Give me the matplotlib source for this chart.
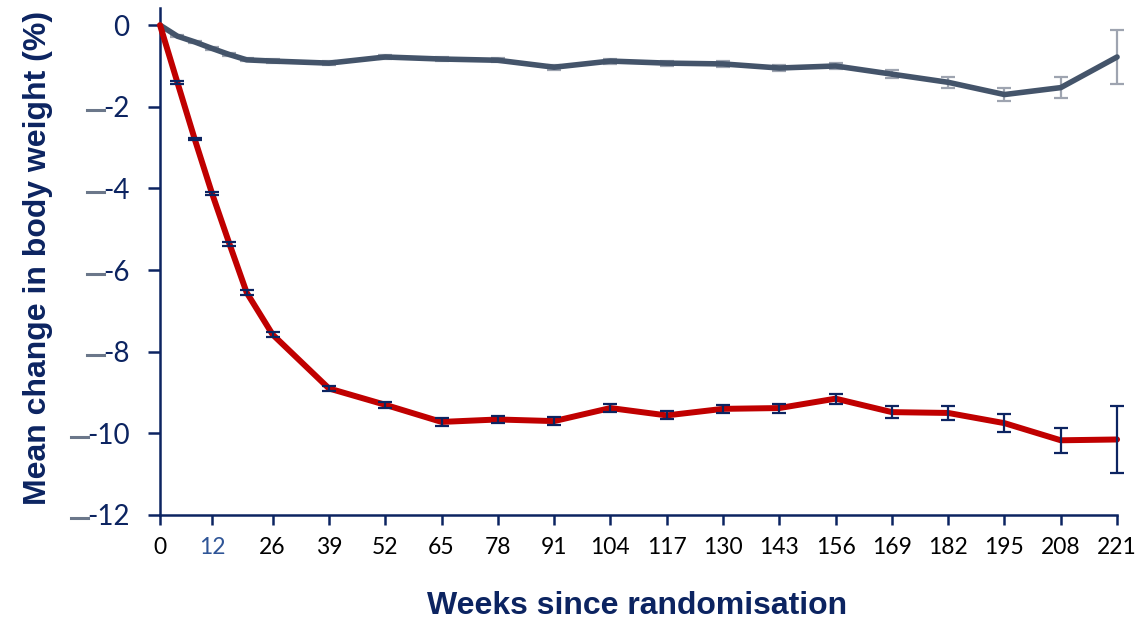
import matplotlib
matplotlib.use("Agg")
import matplotlib.pyplot as plt
from matplotlib.lines import Line2D
import numpy as np

# weeks since randomisation
weeks = [0, 4, 8, 12, 16, 20, 26, 39, 52, 65, 78, 91, 104, 117, 130, 143, 156, 169, 182, 195, 208, 221]

# treatment arm (red) mean change and error
treat_mean = [0, -1.40, -2.79, -4.12, -5.35, -6.55, -7.58, -8.90, -9.30, -9.72, -9.66, -9.70, -9.38,
              -9.56, -9.40, -9.38, -9.15, -9.48, -9.50, -9.75, -10.17, -10.15]
treat_err = [0, 0.03, 0.03, 0.04, 0.05, 0.05, 0.07, 0.07, 0.08, 0.09, 0.09, 0.10, 0.09,
             0.10, 0.10, 0.11, 0.12, 0.15, 0.17, 0.22, 0.30, 0.81]

# placebo arm (grey) mean change and error
plac_mean = [0, -0.27, -0.41, -0.57, -0.72, -0.85, -0.88, -0.93, -0.78, -0.83, -0.86, -1.03, -0.88,
             -0.93, -0.95, -1.05, -1.00, -1.20, -1.40, -1.70, -1.53, -0.78]
plac_err = [0, 0.02, 0.02, 0.03, 0.03, 0.04, 0.04, 0.05, 0.05, 0.05, 0.05, 0.06, 0.06,
            0.06, 0.07, 0.08, 0.08, 0.10, 0.13, 0.17, 0.25, 0.67]

xticks = [0, 12, 26, 39, 52, 65, 78, 91, 104, 117, 130, 143, 156, 169, 182, 195, 208, 221]
yticks = [0, -2, -4, -6, -8, -10, -12]

navy = "#0c2461"
red = "#c00000"
slate = "#44546a"
light = "#9ea4b0"

fig = plt.figure(figsize=(11.35, 6.21), dpi=100)
ax = fig.add_axes([0.1410, 0.1707, 0.8432, 0.8164])

ax.errorbar(weeks[1:], plac_mean[1:], yerr=plac_err[1:], fmt="none", ecolor=light,
            elinewidth=1.6, capsize=5, capthick=1.6, clip_on=False, zorder=2)
ax.plot(weeks, plac_mean, color=slate, lw=4.0, solid_joinstyle="round",
        solid_capstyle="round", clip_on=False, zorder=3)

ax.plot(weeks, treat_mean, color=red, lw=4.3, solid_joinstyle="round",
        solid_capstyle="round", clip_on=False, zorder=3)
ax.errorbar(weeks[1:], treat_mean[1:], yerr=treat_err[1:], fmt="none", ecolor=navy,
            elinewidth=1.6, capsize=5, capthick=1.6, clip_on=False, zorder=4)

ax.set_xlim(0, 221)
ax.set_ylim(-12, 0.42)

for s in ["top", "right"]:
    ax.spines[s].set_visible(False)
for s in ["left", "bottom"]:
    ax.spines[s].set_color(navy)
    ax.spines[s].set_linewidth(1.8)

ax.set_xticks(xticks)
ax.set_xticklabels([str(t) for t in xticks], fontfamily="Lato", fontsize=16.5, color="black")
ax.set_yticks(yticks)
ax.set_yticklabels(["0" if t == 0 else "-" + str(-t) for t in yticks],
                   fontfamily="Lato", fontsize=20, color=navy)
ax.tick_params(axis="x", direction="out", length=7, width=1.8, color=navy, pad=9)
ax.tick_params(axis="y", direction="out", length=9, width=1.8, color=navy, pad=13)

# the "12" tick is drawn in lighter blue
for lbl, tl in zip(ax.get_xticklabels(), ax.xaxis.get_major_ticks()):
    if lbl.get_text() == "12":
        lbl.set_color("#2f5597")
        tl.tick1line.set_color("#5b8bd6")

ax.set_ylabel("Mean change in body weight (%)", fontsize=23, fontweight="bold",
              color=navy, family="Liberation Sans")
ax.set_xlabel("Weeks since randomisation", fontsize=23, fontweight="bold",
              color=navy, family="Liberation Sans")
ax.yaxis.set_label_coords(-0.112, 0.508)
ax.xaxis.set_label_coords(0.498, -0.149)

# grey dashes in front of the negative y tick labels
fig.canvas.draw()
renderer = fig.canvas.get_renderer()
inv = fig.transFigure.inverted()
for lbl in ax.get_yticklabels():
    if lbl.get_text() == "0":
        continue
    bb = lbl.get_window_extent(renderer)
    yc = (bb.y0 + bb.y1) / 2 - 1
    (xa, ya), (xb, yb) = inv.transform([(bb.x0 - 16, yc), (bb.x0 + 1, yc)])
    fig.add_artist(Line2D([xa, xb], [ya, yb], transform=fig.transFigure,
                          color="#6b778a", lw=2.2))

fig.savefig("out.png", dpi=100)
